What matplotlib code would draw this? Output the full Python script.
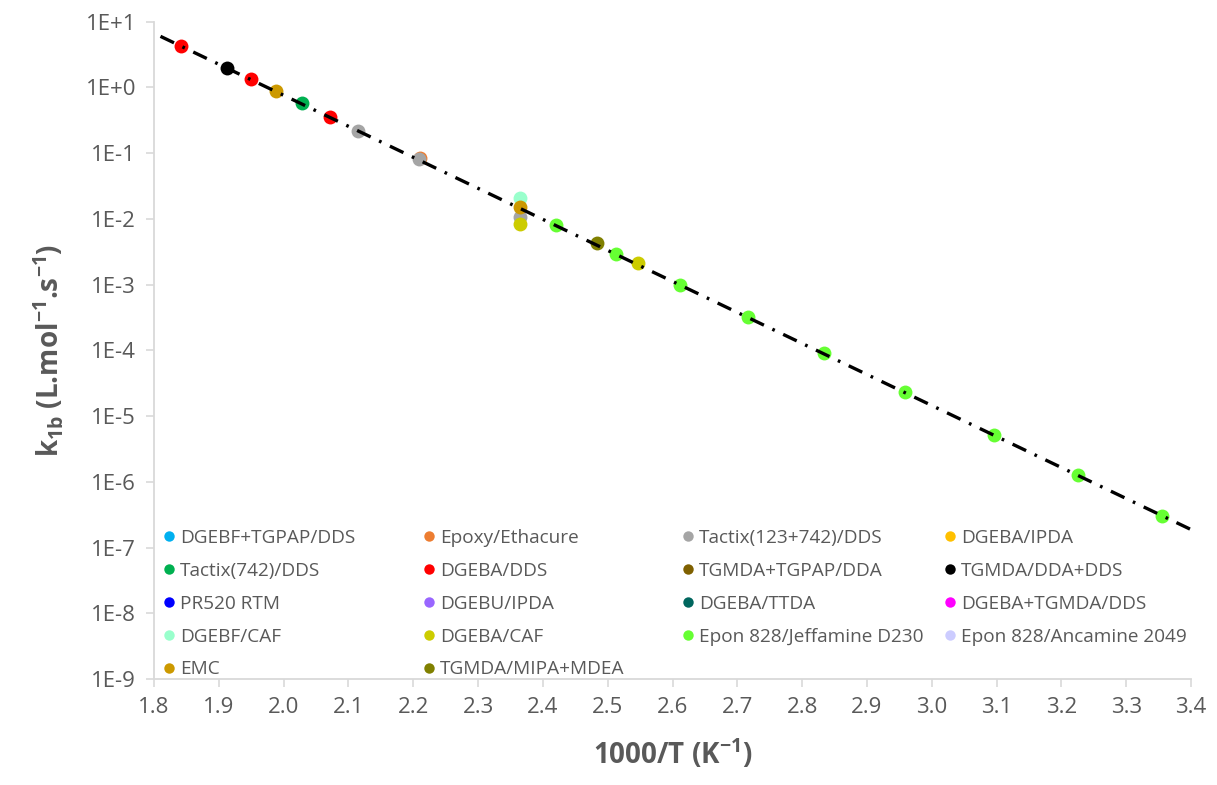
import numpy as np
import matplotlib
matplotlib.use("Agg")
import matplotlib.pyplot as plt
from matplotlib.ticker import FixedLocator, FuncFormatter, NullLocator
from matplotlib.lines import Line2D

plt.rcParams['font.family'] = ['Open Sans', 'DejaVu Sans']
plt.rcParams['mathtext.fontset'] = 'custom'
plt.rcParams['mathtext.rm'] = 'Open Sans'
plt.rcParams['mathtext.bf'] = 'Open Sans:bold'

# series names, in legend order (row by row)
names = ["DGEBF+TGPAP/DDS", "Epoxy/Ethacure", "Tactix(123+742)/DDS", "DGEBA/IPDA",
         "Tactix(742)/DDS", "DGEBA/DDS", "TGMDA+TGPAP/DDA", "TGMDA/DDA+DDS",
         "PR520 RTM", "DGEBU/IPDA", "DGEBA/TTDA", "DGEBA+TGMDA/DDS",
         "DGEBF/CAF", "DGEBA/CAF", "Epon 828/Jeffamine D230", "Epon 828/Ancamine 2049",
         "EMC", "TGMDA/MIPA+MDEA"]
colors = ["#00B0F0", "#ED7D31", "#A5A5A5", "#FFC000",
          "#00B050", "#FF0000", "#7F6000", "#000000",
          "#0000FF", "#9966FF", "#00665E", "#FF00FF",
          "#99FFCC", "#CCCC00", "#66FF33", "#CCCCFF",
          "#CC9900", "#808000"]

# 1000/T values and k1b values per series
x_data = {
    "Epoxy/Ethacure": [2.211],
    "Tactix(123+742)/DDS": [2.114, 2.209, 2.365],
    "Tactix(742)/DDS": [2.029],
    "DGEBA/DDS": [1.842, 1.950, 2.071],
    "TGMDA/DDA+DDS": [1.913],
    "DGEBF/CAF": [2.365],
    "DGEBA/CAF": [2.365, 2.547],
    "Epon 828/Jeffamine D230": [2.421, 2.513, 2.611, 2.717, 2.833, 2.959, 3.096, 3.226, 3.356],
    "EMC": [1.989, 2.365],
    "TGMDA/MIPA+MDEA": [2.484],
}
k_data = {
    "Epoxy/Ethacure": [0.083],
    "Tactix(123+742)/DDS": [0.215, 0.081, 0.0105],
    "Tactix(742)/DDS": [0.57],
    "DGEBA/DDS": [4.3, 1.33, 0.36],
    "TGMDA/DDA+DDS": [1.97],
    "DGEBF/CAF": [0.021],
    "DGEBA/CAF": [0.0083, 0.0021],
    "Epon 828/Jeffamine D230": [0.0080, 0.0029, 0.00100, 3.2e-4, 9.0e-5, 2.3e-5, 5.2e-6, 1.25e-6, 3.0e-7],
    "EMC": [0.87, 0.0152],
    "TGMDA/MIPA+MDEA": [0.0043],
}

trend_range = [1.81, 3.40]
y_ticks = [1e1, 1e0, 1e-1, 1e-2, 1e-3, 1e-4, 1e-5, 1e-6, 1e-7, 1e-8, 1e-9]
x_ticks = np.round(np.arange(1.8, 3.401, 0.1), 1)

grey = "#595959"
W, H = 1217, 785
fig = plt.figure(figsize=(W / 100, H / 100), dpi=100)
ax = fig.add_axes([154 / W, 1 - 679 / H, (1191 - 154) / W, (679 - 21.7) / H])

handles = []
for name, c in zip(names, colors):
    xs = x_data.get(name, [])
    ks = k_data.get(name, [])
    ax.plot(xs, ks, 'o', color=c, markersize=10, markeredgewidth=0, zorder=3)
    handles.append(Line2D([], [], marker='o', linestyle='none', color=c,
                          markersize=7.5, markeredgewidth=0, label=name))

# Arrhenius trend line fitted on all points
all_x = np.concatenate([x_data[n] for n in x_data])
all_k = np.concatenate([k_data[n] for n in k_data])
p = np.polyfit(all_x, np.log10(all_k), 1)
tx = np.array(trend_range)
ax.plot(tx, 10 ** np.polyval(p, tx), color='black', lw=2.4,
        linestyle=(0, (4.5, 2.8, 0.8, 2.8)), zorder=4)

ax.set_yscale('log')
ax.set_ylim(1e-9, 1e1)
ax.set_xlim(1.8, 3.4)
ax.yaxis.set_major_locator(FixedLocator(y_ticks))
ax.yaxis.set_minor_locator(NullLocator())
ax.yaxis.set_major_formatter(FuncFormatter(lambda v, pos: "1E%+d" % int(round(np.log10(v)))))
ax.set_xticks(x_ticks)
ax.xaxis.set_major_formatter(FuncFormatter(lambda v, pos: "%.1f" % v))

for s in ['top', 'right']:
    ax.spines[s].set_visible(False)
for s in ['left', 'bottom']:
    ax.spines[s].set_color('#D9D9D9')
    ax.spines[s].set_linewidth(1.3)
ax.tick_params(axis='both', colors='#D9D9D9', labelcolor=grey, labelsize=16,
               length=6, width=1.2, direction='out')
ax.tick_params(axis='x', pad=7)
ax.tick_params(axis='y', pad=7)

ax.set_xlabel("1000/T (K$^{\\mathbf{-1}}$)", fontsize=20, fontweight='bold', color=grey, labelpad=14)
ax.set_ylabel("k$_{\\mathbf{1b}}$ (L.mol$^{\\mathbf{-1}}$.s$^{\\mathbf{-1}}$)", fontsize=20,
              fontweight='bold', color=grey, labelpad=14)

# legend: one column per legend so columns sit at the same spacing as the original
col_x = [169, 429, 688, 950]
fs = 13.7
for col in range(4):
    idx = list(range(col, len(handles), 4))
    leg = fig.legend([handles[i] for i in idx], [names[i] for i in idx],
                     loc='upper left', bbox_to_anchor=((col_x[col] - 6) / W, 1 - 529 / H),
                     frameon=False, fontsize=fs, handlelength=0.6, handletextpad=0.3,
                     labelspacing=0.78, borderpad=0, borderaxespad=0)
    for t in leg.get_texts():
        t.set_color(grey)

fig.savefig("out.png", dpi=100)
